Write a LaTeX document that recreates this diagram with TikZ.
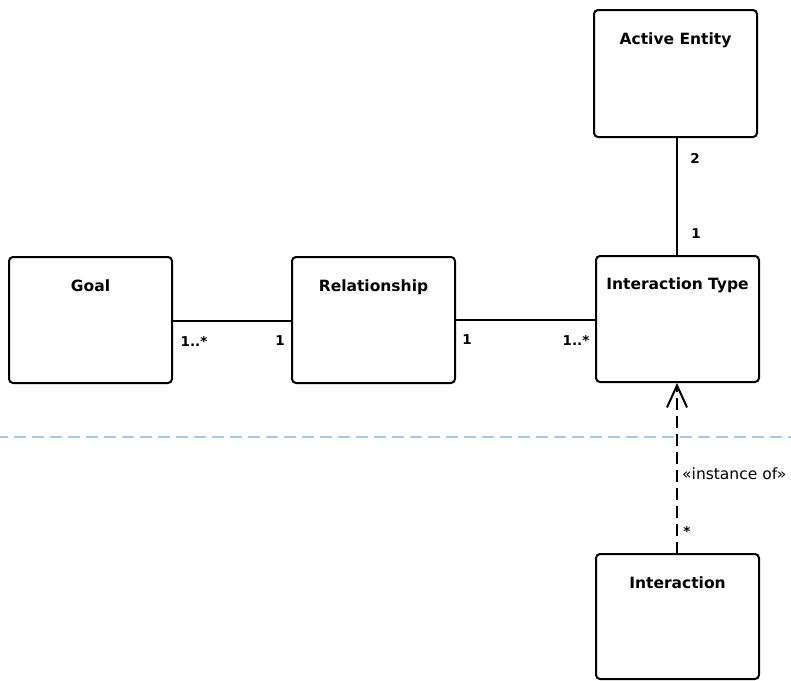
\documentclass[tikz,border=0pt]{standalone}
\usepackage{fontspec}
\setmainfont{DejaVu Sans}
\usetikzlibrary{arrows.meta}
\begin{document}
\begin{tikzpicture}[x=1pt,y=-1pt,
  classbox/.style={draw, line width=2pt, rounded corners=4pt, fill=white},
  title/.style={font=\bfseries\fontsize{15.5}{17}\selectfont, anchor=north},
  mult/.style={font=\bfseries\fontsize{13.5}{15}\selectfont, inner sep=0pt},
  assoc/.style={line width=2pt},
  depend/.style={line width=2pt, dash pattern=on 12pt off 6pt,
    -{Straight Barb[length=22pt,width=20pt,line width=2pt]}},
  separator/.style={line width=2.5pt, color=sepblue, dash pattern=on 12pt off 6pt}]
\definecolor{sepblue}{RGB}{168,200,232}
\useasboundingbox (0,0) rectangle (791,680);
\clip (0,0) rectangle (791,680);

% separator between type level and instance level
\coordinate (sepL) at (-4,437);
\coordinate (sepR) at (800,437);
\draw[separator] (sepL) -- (sepR);

% classes
\draw[classbox] (594,10) rectangle (757,137);
\node[title] (aeT) at (675.5,29) {Active Entity};
\coordinate (aeS) at (677,137);

\draw[classbox] (9,257) rectangle (172,383);
\node[title] (goalT) at (90.5,276) {Goal};
\coordinate (goalE) at (172,321);

\draw[classbox] (292,257) rectangle (455,383);
\node[title] (relT) at (373.5,276) {Relationship};
\coordinate (relW) at (292,321);
\coordinate (relE) at (455,320);

\draw[classbox] (596,256) rectangle (759,382);
\node[title] (itT) at (677.5,274) {Interaction Type};
\coordinate (itN) at (677,256);
\coordinate (itW) at (596,320);
\coordinate (itS) at (677,383);

\draw[classbox] (596,554) rectangle (759,679);
\node[title] (inT) at (677.5,573) {Interaction};
\coordinate (inN) at (677,554);

% associations
\draw[assoc] (goalE) -- (relW);
\draw[assoc] (relE) -- (itW);
\draw[assoc] (aeS) -- (itN);

% instance-of dependency
\draw[depend] (inN) -- (itS);

% multiplicities
\node[mult] (m1) at (194,341) {1..*};
\node[mult] (m2) at (280,341) {1};
\node[mult] (m3) at (467,340) {1};
\node[mult] (m4) at (576,340) {1..*};
\node[mult] (m5) at (695,158) {2};
\node[mult] (m6) at (696,234) {1};
\node[mult] (m7) at (687,531) {*};
\node[font=\fontsize{15.5}{17}\selectfont, anchor=west, inner sep=0pt] (io) at (682,474) {«instance of»};
\end{tikzpicture}
\end{document}
